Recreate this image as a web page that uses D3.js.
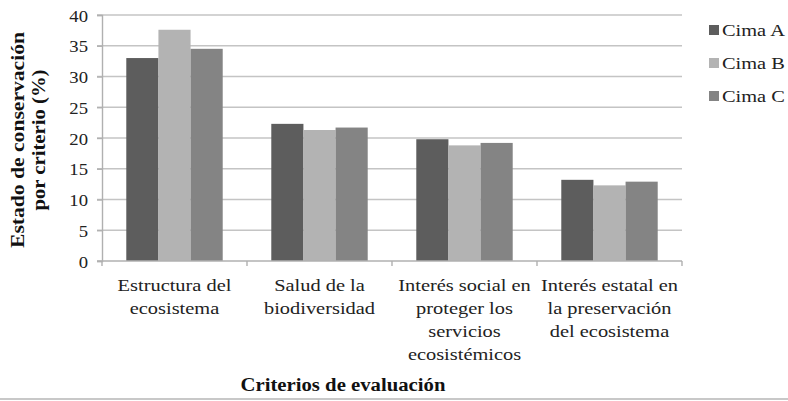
<!DOCTYPE html>
<html><head><meta charset="utf-8">
<script src="https://cdn.jsdelivr.net/npm/d3@7"></script>
<style>
body{margin:0;background:#fff;}
</style></head>
<body><svg id="c" width="788" height="401"></svg>
<script>
const categories = [
  ["Estructura del","ecosistema"],
  ["Salud de la","biodiversidad"],
  ["Interés social en","proteger los","servicios","ecosistémicos"],
  ["Interés estatal en","la preservación","del ecosistema"]
];
const seriesNames = ["Cima A","Cima B","Cima C"];
const cimaA = [33.0, 22.3, 19.8, 13.2];
const cimaB = [37.6, 21.3, 18.8, 12.3];
const cimaC = [34.5, 21.7, 19.2, 12.9];
const yTicks = [0,5,10,15,20,25,30,35,40];
const colors = ["#5d5d5d","#b3b3b3","#848484"];

const FONT = "Liberation Serif";
const SX = 1.2;
const series = [cimaA, cimaB, cimaC];
const svg = d3.select("#c");
const L = 102, R = 682, T = 15, B = 261;
const x = d3.scaleBand().domain(d3.range(categories.length)).range([L, R]).paddingInner(0.335).paddingOuter(0.1675);
const x1 = d3.scaleBand().domain(d3.range(seriesNames.length)).range([0, x.bandwidth()]);
const y = d3.scaleLinear().domain([0, 40]).range([B, T]);

// gridlines
svg.append("g").selectAll("line").data(yTicks.filter(d=>d>0)).join("line")
  .attr("x1", L-5).attr("x2", R).attr("y1", d=>y(d)).attr("y2", d=>y(d))
  .attr("stroke", "#c4c4c4").attr("stroke-width", 1.4);

// y axis
const ya = svg.append("g").attr("transform", `translate(${L},0)`)
  .call(d3.axisLeft(y).tickValues(yTicks).tickSize(5).tickPadding(0));
ya.select(".domain").attr("stroke", "#b0b0b0").attr("stroke-width",1.4);
ya.selectAll(".tick line").attr("stroke", "#b0b0b0").attr("stroke-width",1.4);
ya.selectAll(".tick text").attr("x", null).attr("dy", null)
  .attr("font-family", FONT).attr("font-size", 17).attr("fill", "#222")
  .attr("text-anchor","end")
  .attr("transform", `translate(-14,6) scale(1.1,1)`);

// bars
svg.append("g").selectAll("g").data(series).join("g")
  .attr("fill", (d,i)=>colors[i])
  .each(function(vals, si){
    d3.select(this).selectAll("rect").data(vals).join("rect")
      .attr("x", (v,ci)=>x(ci)+x1(si))
      .attr("width", x1.bandwidth())
      .attr("y", v=>y(v))
      .attr("height", v=>y(0)-y(v));
  });

// x axis
const xb = d3.scaleLinear().domain([0, categories.length]).range([L, R]);
svg.append("line").attr("x1", L-5).attr("x2", R).attr("y1", B).attr("y2", B)
  .attr("stroke", "#b0b0b0").attr("stroke-width", 1.4);
svg.append("g").selectAll("line").data(d3.range(categories.length+1)).join("line")
  .attr("x1", d=>xb(d)).attr("x2", d=>xb(d)).attr("y1", B).attr("y2", B+5)
  .attr("stroke", "#b0b0b0").attr("stroke-width", 1.4);

// category labels
const cg = svg.append("g").selectAll("g").data(categories).join("g")
  .attr("transform", (d,i)=>`translate(${x(i)+x.bandwidth()/2},291) scale(${SX},1)`);
const cl = cg.append("text").attr("text-anchor", "middle").attr("font-family", FONT)
  .attr("font-size", 17).attr("fill", "#222");
cl.selectAll("tspan").data(d=>d).join("tspan")
  .attr("x", 0).attr("y", (d,i)=>i*23).text(d=>d);

// axis titles
svg.append("text").attr("x", 343).attr("y", 391).attr("text-anchor","middle")
  .attr("font-family", FONT).attr("font-size", 18).attr("font-weight","bold").attr("fill","#111")
  .attr("textLength", 205).attr("lengthAdjust","spacingAndGlyphs")
  .text("Criterios de evaluación");
const yt = svg.append("g").attr("transform", `translate(0,140) rotate(-90)`);
yt.append("text").attr("x",0).attr("y",24).attr("text-anchor","middle")
  .attr("font-family", FONT).attr("font-size",18).attr("font-weight","bold").attr("fill","#111")
  .attr("textLength", 216).attr("lengthAdjust","spacingAndGlyphs")
  .text("Estado de conservación");
yt.append("text").attr("x",0).attr("y",45).attr("text-anchor","middle")
  .attr("font-family", FONT).attr("font-size",18).attr("font-weight","bold").attr("fill","#111")
  .attr("textLength", 141).attr("lengthAdjust","spacingAndGlyphs")
  .text("por criterio (%)");

// legend
const lg = svg.append("g").selectAll("g").data(seriesNames).join("g")
  .attr("transform", (d,i)=>`translate(709,${30+i*33})`);
lg.append("rect").attr("x",0).attr("y",-5).attr("width",10).attr("height",10).attr("fill",(d,i)=>colors[i]);
lg.append("text").attr("transform", `translate(13,6) scale(${SX},1)`)
  .attr("font-family", FONT).attr("font-size",17).attr("fill","#222").text(d=>d);

// bottom border
svg.append("line").attr("x1",0).attr("x2",788).attr("y1",399).attr("y2",399).attr("stroke","#c8c8c8").attr("stroke-width",2);
</script></body></html>
